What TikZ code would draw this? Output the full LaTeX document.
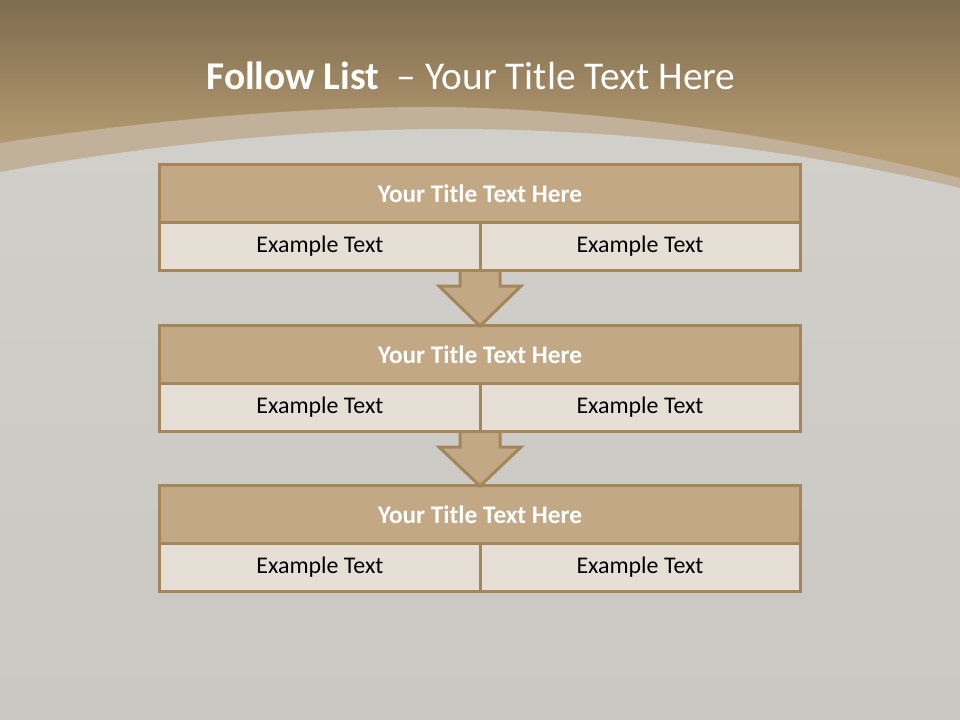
\documentclass[tikz,border=0pt]{standalone}
\usepackage{fontspec}
\setmainfont{Carlito}
\usepackage{tikz}
\usetikzlibrary{positioning, calc, shapes.geometric}
\definecolor{cTop}{HTML}{7E6C4F}
\definecolor{cTan}{HTML}{B59B71}
\definecolor{cBand}{HTML}{C1B19A}
\definecolor{cGray}{HTML}{D1CFCA}
\definecolor{cGrayLow}{HTML}{CAC8C2}
\definecolor{cHead}{HTML}{C3A886}
\definecolor{cEdge}{HTML}{A5855B}
\definecolor{cCell}{HTML}{E6DFD5}
\tikzset{
	headbox/.style={rectangle, draw=cEdge, fill=cHead, line width=0.075cm, outer sep=0pt, minimum width=16cm, minimum height=1.425cm, inner sep=0pt, text=white, font=\fontsize{18}{21}\selectfont\bfseries},
	cellbox/.style={rectangle, draw=cEdge, fill=cCell, line width=0.075cm, outer sep=0pt, minimum width=8cm, minimum height=1.2cm, inner sep=0pt, text=black, font=\fontsize{17}{20}\selectfont},
	downarrow/.style={draw=cEdge, fill=cHead, line width=0.075cm, line join=miter},
}

\begin{document}
\begin{tikzpicture}[x=0.025cm, y=-0.025cm]
	\useasboundingbox (0,0) rectangle (960,720);
	% background
	\shade[top color=cTop, bottom color=cTan] (0,0) rectangle (960,150);
	\fill[cTan] (0,150) rectangle (960,200);
	\fill[cBand] (0,143) .. controls (150,120) and (300,107) .. (430,107) .. controls (560,107) and (760,128) .. (960,178) -- (960,720) -- (0,720) -- cycle;
	\shade[top color=cGray, bottom color=cGrayLow] (0,172) .. controls (150,145) and (300,129) .. (450,129) .. controls (600,129) and (780,145) .. (960,188) -- (960,720) -- (0,720) -- cycle;
	\node[text=white, font=\fontsize{28}{34}\selectfont] (title) at (471,76) {\textbf{Follow List}\hspace{0.45em}– Your Title Text Here};

	% three steps
	\node[headbox] (h1) at (480,193.5) {Your Title Text Here};
	\node[headbox] (h2) at (480,354.5) {Your Title Text Here};
	\node[headbox] (h3) at (480,514.5) {Your Title Text Here};
	\foreach \i in {1,2,3}{
		\node[cellbox, anchor=north east] (l\i) at (h\i.south) {Example Text};
		\node[cellbox, anchor=north west] (r\i) at (h\i.south) {Example Text};
	}

	% arrows between steps
	\foreach \i/\j in {1/2,2/3}{
		\coordinate (s\i) at (r\i.south west);
		\draw[downarrow] ($(s\i)+(-20,0)$) -- ($(s\i)+(-20,16)$) -- ($(s\i)+(-41,16)$) -- (h\j.north)
			-- ($(s\i)+(41,16)$) -- ($(s\i)+(20,16)$) -- ($(s\i)+(20,0)$);
	}
	% redraw the step rows above the arrow shafts
	\foreach \i in {1,2}{
		\draw[cEdge, line width=0.075cm] (l\i.south west) -- (r\i.south east);
	}
\end{tikzpicture}
\end{document}
